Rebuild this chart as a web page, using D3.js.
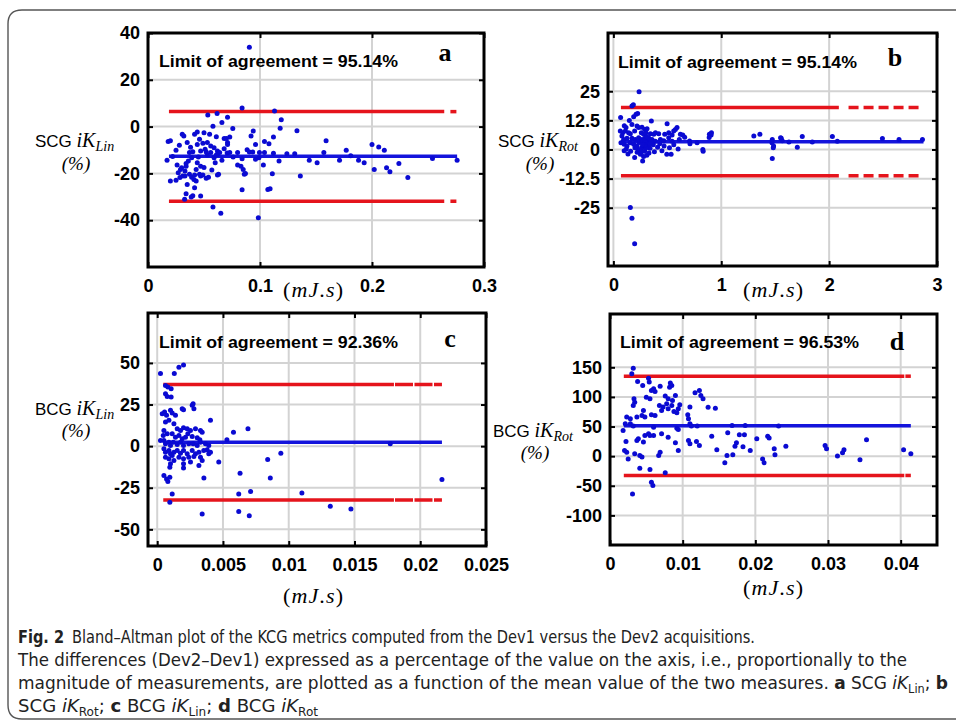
<!DOCTYPE html>
<html>
<head>
<meta charset="utf-8">
<script src="https://cdn.jsdelivr.net/npm/d3@7"></script>
<style>
body{margin:0;background:#fff;}
svg{display:block;}
</style>
</head>
<body>
<script>
// Bland-Altman points [mean value (mJ.s), difference (%)]
var scgLin = [[0.0905,33.9],[0.084,8.0],[0.0534,5.0],[0.0617,5.6],[0.071,4.0],[0.066,1.7],[0.058,0.2],[0.113,6.7],[0.119,2.9],[0.118,-0.7],[0.133,-1.8],[0.0757,-0.8],
  [0.0306,-3.3],[0.018,-6.4],[0.020,-6.1],[0.032,-4.0],[0.0416,-3.3],[0.044,-2.3],[0.050,-2.6],[0.055,-3.3],[0.035,-6.8],[0.046,-5.4],[0.049,-7.1],[0.053,-6.8],
  [0.061,-4.3],[0.068,-5.1],[0.071,-6.8],[0.073,-4.4],[0.044,-7.6],[0.056,-8.3],[0.059,-9.0],[0.062,-10.4],[0.025,-10.1],[0.037,-11.1],[0.040,-10.7],[0.047,-10.4],
  [0.052,-10.9],[0.056,-11.1],[0.051,-9.7],[0.053,-12.1],[0.062,-11.9],[0.064,-11.1],[0.059,-13.3],[0.039,-13.3],[0.036,-14.7],[0.034,-15.8],[0.017,-14.4],[0.026,-16.4],
  [0.030,-17.6],[0.034,-16.9],[0.044,-15.4],[0.047,-16.9],[0.043,-18.3],[0.029,-18.3],[0.027,-19.7],[0.0285,-21.8],[0.031,-21.1],[0.020,-23.3],[0.025,-22.9],[0.033,-21.1],
  [0.037,-20.4],[0.039,-21.6],[0.0416,-20.7],[0.046,-20.4],[0.047,-21.1],[0.049,-20.7],[0.052,-22.1],[0.054,-21.6],[0.041,-22.6],[0.043,-23.3],[0.035,-24.7],[0.0416,-26.1],
  [0.034,-28.7],[0.040,-29.6],[0.0327,-31.1],[0.0386,-30.1],[0.047,-29.7],[0.058,-34.4],[0.065,-37.0],[0.062,-20.7],[0.083,-16.9],[0.080,-16.4],[0.084,-27.0],[0.086,-20.4],
  [0.0885,-9.9],[0.0905,-10.9],[0.0935,-10.9],[0.092,-4.0],[0.094,-1.9],[0.096,-7.6],[0.099,-13.3],[0.103,-16.4],[0.104,-6.4],[0.108,-7.3],[0.112,-4.4],[0.0985,-39.0],
  [0.107,-26.9],[0.109,-26.6],[0.111,-20.1],[0.104,-11.1],[0.112,-11.4],[0.117,-14.7],[0.124,-11.6],[0.131,-11.6],[0.136,-21.1],[0.144,-14.4],[0.151,-15.4],[0.157,-11.1],
  [0.159,-6.1],[0.171,-14.4],[0.177,-10.1],[0.080,-11.1],[0.084,-13.7],[0.0995,-11.1],[0.096,-14.0],[0.0707,-11.3],[0.071,-7.6],[0.188,-14.4],[0.193,-15.4],[0.200,-7.6],
  [0.206,-8.7],[0.211,-10.1],[0.202,-18.3],[0.213,-17.6],[0.216,-19.3],[0.224,-15.8],[0.232,-21.8],[0.254,-13.6],[0.276,-14.4],[0.181,-12.5],[0.066,-14.4],[0.063,-20.4],
  [0.061,-12.1],[0.073,-11.1],[0.070,-5.1],[0.085,-18.3],[0.087,-20.0],[0.060,-15.5],[0.022,-12.8],[0.028,-8.0],[0.045,-13.0],[0.050,-17.5],[0.057,-18.5],[0.068,-9.5],
  [0.076,-13.0],[0.038,-8.8],[0.033,-19.0]];

var scgRot = [[0.238,24.8],[0.172,18.7],[0.185,19.2],[0.067,13.7],[0.21,15.1],[0.225,15.4],[0.188,14.1],[0.148,12.5],[0.352,12.2],[0.498,11.1],[0.101,10.2],[0.117,9.4],
  [0.172,10.7],[0.219,10.1],[0.234,9.4],[0.265,9.6],[0.29,8.6],[0.312,8.9],[0.575,8.6],[0.59,9.4],[0.064,7.9],[0.086,7.2],[0.111,7.9],[0.141,7.2],[0.157,6.8],[0.197,7.9],
  [0.259,7.2],[0.28,6.5],[0.302,7.2],[0.343,6.8],[0.374,6.5],[0.39,7.2],[0.42,6.8],[0.476,6.5],[0.513,7.2],[0.544,6.2],[0.559,7.9],[0.621,6.5],[0.643,6.2],[0.661,5.3],
  [0.89,6.5],[0.909,7.2],[1.302,5.8],[1.358,6.5],[0.079,5.8],[0.095,4.3],[0.126,4.8],[0.172,4.8],[0.203,4.3],[0.234,5.0],[0.265,4.3],[0.296,5.0],[0.327,3.8],[0.358,4.3],
  [0.389,3.5],[0.436,4.3],[0.467,3.8],[0.513,5.0],[0.544,3.5],[0.611,4.3],[0.706,3.6],[0.776,2.9],[0.829,0.0],[0.07,2.9],[0.10,2.2],[0.126,1.5],[0.157,2.9],[0.188,2.2],
  [0.219,1.5],[0.24,3.0],[0.262,0.8],[0.28,2.5],[0.31,1.5],[0.33,2.8],[0.34,0.5],[0.37,2.0],[0.41,1.0],[0.43,2.5],[0.47,1.5],[0.52,0.8],[0.56,2.0],[0.60,0.2],
  [0.495,-2.0],[0.535,-2.0],[0.197,-3.4],[0.271,-4.9],[0.135,-1.9],[0.10,-0.5],[0.16,-0.8],[0.22,-1.2],[0.25,-2.0],[0.29,-0.8],[0.31,-2.5],[0.28,-3.0],[0.33,-1.5],
  [0.38,-1.0],[0.45,-0.5],[0.23,0.0],[0.26,-1.0],[0.3,0.5],[0.2,0.8],[0.12,0.2],[1.47,2.9],[1.485,1.5],[1.473,-3.9],[1.473,4.3],[1.482,0.7],[1.556,4.8],[1.565,3.8],
  [1.627,3.2],[1.705,1.0],[1.751,5.6],[1.844,3.2],[2.03,5.6],[2.076,3.5],[2.494,4.7],[2.648,4.3],[2.865,4.3],[0.906,6.2],[0.888,5.2],[0.832,-0.7],[0.71,2.5],[1.55,5.0],
  [0.157,-24.9],[0.172,-29.5],[0.197,-40.4],[0.27,3.5],[0.29,4.0],[0.3,3.0],[0.32,2.3],[0.33,4.8],[0.29,1.8],[0.31,5.5],[0.35,3.2],[0.27,2.0],[0.34,2.5]];

var bcgLin = [[0.00025,43.6],[0.0013,43.6],[0.00165,47.4],[0.002,48.8],[0.00063,36.5],[0.00081,35.5],[0.00106,34.5],[0.00063,31.5],[0.00076,29.9],[0.00106,29.5],
  [0.00038,19.5],[0.00056,20.5],[0.00071,18.5],[0.00101,21.5],[0.00114,19.9],[0.00139,18.5],[0.0019,22.5],[0.002,21.9],[0.00266,24.5],[0.00279,22.5],[0.00273,25.5],
  [0.00063,14.5],[0.00089,15.5],[0.00127,13.5],[0.00152,10.4],[0.00177,9.4],[0.002,11.0],[0.00228,10.4],[0.00253,9.4],[0.00291,10.4],[0.00329,9.4],[0.00342,8.4],
  [0.00405,15.5],[0.00051,9.4],[0.00046,6.4],[0.00076,7.4],[0.00114,7.4],[0.00139,5.4],[0.00165,6.4],[0.0019,4.4],[0.00215,5.4],[0.00233,7.4],[0.00266,5.8],[0.00304,5.0],
  [0.00324,3.8],[0.00025,3.4],[0.00051,3.4],[0.00063,1.4],[0.00089,2.4],[0.00101,0.4],[0.00122,2.4],[0.00152,1.0],[0.00177,2.4],[0.002,0.4],[0.0024,1.4],[0.00273,1.4],
  [0.00304,0.4],[0.00329,2.4],[0.00367,1.4],[0.00392,0.4],[0.0053,3.8],[0.0058,8.4],[0.0069,10.4],[0.00051,-1.6],[0.00063,-3.6],[0.00089,-2.6],[0.00101,-4.6],
  [0.00127,-3.6],[0.00152,-2.6],[0.00177,-4.2],[0.002,-2.6],[0.00228,-4.6],[0.00266,-2.6],[0.00291,-4.6],[0.00317,-3.6],[0.00354,-2.6],[0.0038,-2.2],[0.00405,-3.6],
  [0.00063,-6.6],[0.00089,-7.6],[0.00114,-5.6],[0.00127,-8.6],[0.00165,-6.6],[0.002,-7.6],[0.0024,-6.6],[0.00279,-6.2],[0.00329,-6.6],[0.00342,-8.6],[0.00392,-4.6],
  [0.00101,-10.6],[0.00096,-12.7],[0.002,-10.6],[0.002,-13.1],[0.00253,-9.6],[0.00317,-11.6],[0.00468,-9.6],[0.00051,-17.7],[0.00071,-19.7],[0.00081,-21.3],
  [0.00096,-18.7],[0.00355,-19.1],[0.0063,-16.3],[0.0084,-8.0],[0.0086,-19.1],[0.0094,-4.2],[0.00114,-28.7],[0.00096,-33.7],[0.0062,-28.7],[0.0071,-27.3],[0.011,-28.1],
  [0.00342,-40.8],[0.0062,-39.2],[0.0070,-41.8],[0.01316,-36.1],[0.01473,-37.7],[0.01772,1.4],[0.02165,-20.1]];

var bcgRot = [[0.0032,148.6],[0.003,139],[0.0038,126],[0.0045,119.4],[0.0053,131.7],[0.0054,125],[0.006,113.7],[0.0062,109.2],[0.0057,110.9],[0.0055,96.9],[0.005,99.6],
  [0.0083,123.6],[0.0085,119.1],[0.0082,116.3],[0.0069,118.2],[0.0076,101.4],[0.008,96.8],[0.009,102.4],[0.0086,94],[0.0117,106.9],[0.0123,110.9],[0.0125,102.4],
  [0.0128,96.8],[0.0135,82.7],[0.0145,81],[0.0033,96.8],[0.0034,91.2],[0.0032,85.5],[0.0023,66],[0.0028,63],[0.0037,66],[0.0044,68.6],[0.0048,66],[0.0046,77.1],
  [0.0057,69.8],[0.0062,68.6],[0.0071,77.1],[0.0068,85.6],[0.0073,82.8],[0.0078,88.4],[0.008,80],[0.0085,85.6],[0.0088,75.5],[0.0092,73.2],[0.0094,80],[0.0096,86.7],
  [0.011,82.8],[0.0107,69.8],[0.0108,63.1],[0.0018,43.4],[0.0022,24.8],[0.002,9.6],[0.0023,6.8],[0.0025,-4.6],[0.0034,4.0],[0.0041,1.2],[0.0044,-1.6],[0.0037,26.5],
  [0.0039,29.3],[0.0046,23.7],[0.0048,34.9],[0.0053,37.8],[0.0055,34.9],[0.006,34.9],[0.0071,37.8],[0.008,32.1],[0.009,22.6],[0.0094,9.6],[0.0108,26.5],[0.011,20.9],
  [0.0119,24.8],[0.0123,18.1],[0.0021,54.6],[0.0028,54.6],[0.0032,50.7],[0.006,49],[0.0092,47.3],[0.0094,45],[0.011,54.6],[0.0112,50.7],[0.012,50.7],[0.0168,51.8],
  [0.0186,51.8],[0.0232,51],[0.0041,-20.3],[0.0055,-22.6],[0.0057,-44],[0.0059,-49.6],[0.0067,1.2],[0.0069,6.8],[0.0076,-28.2],[0.0031,-63.7],[0.014,33.8],[0.0147,10.7],
  [0.0158,-11.3],[0.0161,1.2],[0.0162,39.4],[0.0169,2.3],[0.0172,16.9],[0.0174,22.6],[0.0178,36.1],[0.0183,15.8],[0.0185,36.1],[0.0193,9.6],[0.0202,29.3],[0.021,-4.6],
  [0.0212,-11.3],[0.0217,33.8],[0.0219,30.5],[0.0226,12.4],[0.0227,2.3],[0.0242,16.9],[0.0296,18],[0.0298,12.4],[0.0313,0.1],[0.032,5.7],[0.0322,10.8],[0.0344,-6.1],
  [0.0353,27.5],[0.0404,10.7],[0.0414,4.0]];

var datasets = [scgLin, scgRot, bcgLin, bcgRot];
var panelLetters = ["a", "b", "c", "d"];
var sensorNames = ["SCG", "SCG", "BCG", "BCG"];
var metricSubs = ["Lin", "Rot", "Lin", "Rot"];
var agreement = ["95.14%", "95.14%", "92.36%", "96.53%"];
var meanDiff = [-12.7, 3.3, 2.3, 51.3];
var upperLoA = [6.4, 18.0, 37.1, 135];
var lowerLoA = [-31.9, -11.3, -32.3, -32.6];
var lineStart = [0.0187, 0.07, 0.00046, 0.0019];
var lineEnd = [0.276, 2.875, 0.02165, 0.0414];
var xDomains = [[0, 0.3], [-0.05, 3], [-0.0007, 0.025], [0, 0.045]];
var yDomains = [[-60, 40], [-50, 50], [-60, 80], [-150, 240]];
var xTickVals = [[0, 0.1, 0.2, 0.3], [0, 1, 2, 3], [0, 0.005, 0.01, 0.015, 0.02, 0.025], [0, 0.01, 0.02, 0.03, 0.04]];
var xTickText = [["0", "0.1", "0.2", "0.3"], ["0", "1", "2", "3"], ["0", "0.005", "0.01", "0.015", "0.02", "0.025"], ["0", "0.01", "0.02", "0.03", "0.04"]];
var yTickVals = [[40, 20, 0, -20, -40], [25, 12.5, 0, -12.5, -25], [50, 25, 0, -25, -50], [150, 100, 50, 0, -50, -100]];
var yTickText = [["40", "20", "0", "-20", "-40"], ["25", "12.5", "0", "-12.5", "-25"], ["50", "25", "0", "-25", "-50"], ["150", "100", "50", "0", "-50", "-100"]];

// where the red limit line turns into dashes
var redSolidTo = [0.2645, 2.09, 0.018, 0.0405];
var redDashFrom = [0.270, 2.18, 0.01808, 0.04065];

// page layout (pixels)
var layout = [
  {left: 148, right: 484, top: 33, bottom: 267, tx: 159, ty: 67, lx: 445, ly: 61, yl: 35, ylb: 147, pcx: 76, pcb: 170, xlx: 313, xlb: 297, dash: "6,6"},
  {left: 608, right: 937, top: 33, bottom: 266, tx: 618, ty: 68, lx: 895, ly: 66, yl: 498, ylb: 147, pcx: 540, pcb: 170, xlx: 773, xlb: 297, dash: "10,5"},
  {left: 148, right: 486, top: 313, bottom: 546, tx: 159, ty: 348, lx: 450, ly: 347, yl: 35, ylb: 415, pcx: 76, pcb: 437, xlx: 313, xlb: 603, dash: "18,1.5"},
  {left: 610, right: 937, top: 314, bottom: 545, tx: 620, ty: 348, lx: 897, ly: 350, yl: 493, ylb: 437, pcx: 535, pcb: 459, xlx: 773, xlb: 595, dash: "20,1.5"}
];

var RED = "#e5141c", BLUE = "#1414dc", DOT = "#0a0ad2", GRID = "#d3d3d3";
var SANS = "'Liberation Sans', Arial, sans-serif";
var SERIF = "'Liberation Serif', 'Times New Roman', serif";

var svg = d3.select("body").append("svg")
    .attr("width", 956)
    .attr("height", 727);

svg.append("rect").attr("width", 956).attr("height", 727).attr("fill", "#fff");

// figure frame (open on the right)
svg.append("path")
    .attr("d", "M956,10 H22 Q8,10 8,24 V705 Q8,719 22,719 H956")
    .attr("fill", "none")
    .attr("stroke", "#555")
    .attr("stroke-width", 1.4);

datasets.forEach(function(pts, i) {
    var L = layout[i];
    var x = d3.scaleLinear().domain(xDomains[i]).range([L.left, L.right]);
    var y = d3.scaleLinear().domain(yDomains[i]).range([L.bottom, L.top]);
    var g = svg.append("g");

    // grid
    g.selectAll(".vg").data(xTickVals[i]).enter().append("line")
        .attr("x1", function(d) { return x(d); })
        .attr("x2", function(d) { return x(d); })
        .attr("y1", L.top).attr("y2", L.bottom)
        .attr("stroke", GRID).attr("stroke-width", 2);
    g.selectAll(".hg").data(yTickVals[i]).enter().append("line")
        .attr("y1", function(d) { return y(d); })
        .attr("y2", function(d) { return y(d); })
        .attr("x1", L.left).attr("x2", L.right)
        .attr("stroke", GRID).attr("stroke-width", 2);

    // limits of agreement: solid part then dashes
    [upperLoA[i], lowerLoA[i]].forEach(function(v) {
        g.append("line")
            .attr("x1", x(lineStart[i])).attr("x2", x(redSolidTo[i]))
            .attr("y1", y(v)).attr("y2", y(v))
            .attr("stroke", RED).attr("stroke-width", 3.5);
        g.append("line")
            .attr("x1", x(redDashFrom[i])).attr("x2", x(lineEnd[i]))
            .attr("y1", y(v)).attr("y2", y(v))
            .attr("stroke", RED).attr("stroke-width", 3.5)
            .attr("stroke-dasharray", L.dash);
    });

    // mean difference
    g.append("line")
        .attr("x1", x(lineStart[i])).attr("x2", x(lineEnd[i]))
        .attr("y1", y(meanDiff[i])).attr("y2", y(meanDiff[i]))
        .attr("stroke", BLUE).attr("stroke-width", 3.5);

    // points
    g.selectAll("circle").data(pts).enter().append("circle")
        .attr("cx", function(d) { return x(d[0]); })
        .attr("cy", function(d) { return y(d[1]); })
        .attr("r", 2.5)
        .attr("fill", DOT);

    // axes with inward ticks
    var fmtX = function(d, j) { return xTickText[i][j]; };
    var fmtY = function(d, j) { return yTickText[i][j]; };
    var axB = g.append("g").attr("transform", "translate(0," + L.bottom + ")")
        .call(d3.axisBottom(x).tickValues(xTickVals[i]).tickSize(-5).tickPadding(12).tickFormat(fmtX));
    var axT = g.append("g").attr("transform", "translate(0," + L.top + ")")
        .call(d3.axisTop(x).tickValues(xTickVals[i]).tickSize(-5).tickFormat(""));
    var axL = g.append("g").attr("transform", "translate(" + L.left + ",0)")
        .call(d3.axisLeft(y).tickValues(yTickVals[i]).tickSize(-5).tickPadding(8).tickFormat(fmtY));
    var axR = g.append("g").attr("transform", "translate(" + L.right + ",0)")
        .call(d3.axisRight(y).tickValues(yTickVals[i]).tickSize(-5).tickFormat(""));
    [axB, axT, axL, axR].forEach(function(a) {
        a.select(".domain").remove();
        a.selectAll("line").attr("stroke", "#000").attr("stroke-width", 2);
        a.selectAll("text")
            .attr("fill", "#000")
            .attr("font-family", SANS)
            .attr("font-size", 18)
            .attr("font-weight", "bold");
    });

    // box
    g.append("rect")
        .attr("x", L.left).attr("y", L.top)
        .attr("width", L.right - L.left).attr("height", L.bottom - L.top)
        .attr("fill", "none").attr("stroke", "#000").attr("stroke-width", 3);

    // annotation
    g.append("text")
        .attr("x", L.tx).attr("y", L.ty)
        .attr("font-family", SANS).attr("font-size", 17).attr("font-weight", "bold")
        .attr("textLength", 239).attr("lengthAdjust", "spacingAndGlyphs")
        .text("Limit of agreement = " + agreement[i]);
    g.append("text")
        .attr("x", L.lx).attr("y", L.ly)
        .attr("text-anchor", "middle")
        .attr("font-family", SERIF).attr("font-size", 26).attr("font-weight", "bold")
        .text(panelLetters[i]);

    // y label
    var yl = g.append("text").attr("x", L.yl).attr("y", L.ylb).attr("font-size", 17);
    yl.append("tspan").attr("font-family", SANS).text(sensorNames[i] + " ");
    yl.append("tspan").attr("font-family", SERIF).attr("font-style", "italic").attr("font-size", 20).text("iK");
    yl.append("tspan").attr("font-family", SERIF).attr("font-style", "italic").attr("font-size", 14).attr("dy", 4).text(metricSubs[i]);
    g.append("text")
        .attr("x", L.pcx).attr("y", L.pcb)
        .attr("text-anchor", "middle")
        .attr("font-family", SERIF).attr("font-style", "italic").attr("font-size", 19)
        .text("(%)");

    // x label
    var xl = g.append("text")
        .attr("x", L.xlx).attr("y", L.xlb)
        .attr("text-anchor", "middle")
        .attr("font-family", SERIF).attr("font-size", 22)
        .attr("textLength", 60).attr("lengthAdjust", "spacing");
    xl.append("tspan").text("(");
    xl.append("tspan").attr("font-style", "italic").text("mJ");
    xl.append("tspan").text(".");
    xl.append("tspan").attr("font-style", "italic").text("s");
    xl.append("tspan").text(")");
});

// caption
var CAP = "'Liberation Sans Narrow', 'DejaVu Sans Condensed', 'Roboto Condensed', 'Open Sans', sans-serif";
svg.append("text")
    .attr("x", 18).attr("y", 643)
    .attr("font-family", CAP).attr("font-size", 18).attr("font-weight", "bold").attr("fill", "#222")
    .attr("textLength", 46).attr("lengthAdjust", "spacingAndGlyphs")
    .text("Fig. 2");
var captionLines = [
  {x: 72, y: 643, w: 683, runs: [{t: "Bland\u2013Altman plot of the KCG metrics computed from the Dev1 versus the Dev2 acquisitions."}]},
  {x: 18, y: 666, w: 889, runs: [{t: "The differences (Dev2\u2013Dev1) expressed as a percentage of the value on the axis, i.e., proportionally to the"}]},
  {x: 18, y: 689, w: 930, runs: [{t: "magnitude of measurements, are plotted as a function of the mean value of the two measures. "}, {t: "a", b: 1}, {t: " SCG "}, {t: "iK", it: 1}, {t: "Lin", sub: 1}, {t: "; "}, {t: "b", b: 1}]},
  {x: 18, y: 712, w: 300, runs: [{t: "SCG "}, {t: "iK", it: 1}, {t: "Rot", sub: 1}, {t: "; "}, {t: "c", b: 1}, {t: " BCG "}, {t: "iK", it: 1}, {t: "Lin", sub: 1}, {t: "; "}, {t: "d", b: 1}, {t: " BCG "}, {t: "iK", it: 1}, {t: "Rot", sub: 1}]}
];
captionLines.forEach(function(line) {
    var t = svg.append("text")
        .attr("x", line.x).attr("y", line.y)
        .attr("font-family", CAP).attr("font-size", 18).attr("fill", "#222")
        .attr("textLength", line.w).attr("lengthAdjust", "spacingAndGlyphs");
    var shifted = false;
    line.runs.forEach(function(r) {
        var s = t.append("tspan").text(r.t);
        if (r.b) s.attr("font-weight", "bold");
        if (r.it) s.attr("font-style", "italic");
        if (r.sub) { s.attr("font-size", 12).attr("dy", 4); shifted = true; }
        else if (shifted) { s.attr("dy", -4); shifted = false; }
    });
});
</script>
</body>
</html>
